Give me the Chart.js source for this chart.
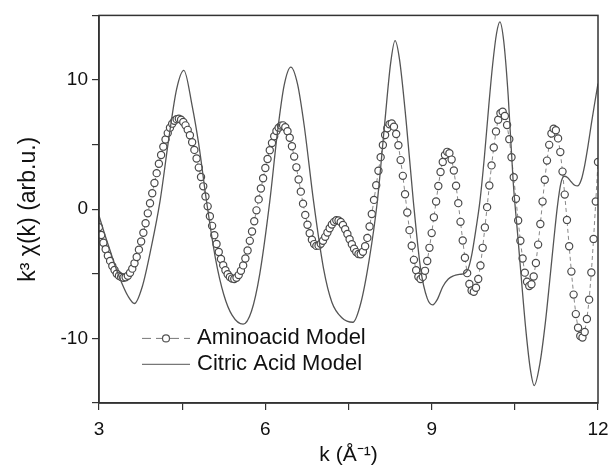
<!DOCTYPE html>
<html>
<head>
<meta charset="utf-8">
<title>EXAFS k3 chi(k)</title>
<script src="https://cdn.jsdelivr.net/npm/chart.js@4.4.1/dist/chart.umd.min.js"></script>
<style>
  html, body { margin: 0; padding: 0; background: #fff; }
  #wrap { position: relative; width: 611px; height: 468px; }
</style>
</head>
<body>
<div id="wrap"><canvas id="exafsChart"></canvas></div>
<script>
// sampling grid of the aminoacid model (circles)
const aminoStart = 3.0;
const aminoStep = 0.04;
const aminoValues = [
  -1.4, -2.0, -2.6, -3.1, -3.6, -4.0, -4.4, -4.7, -5.0, -5.15, -5.25, -5.3,
  -5.27, -5.15, -4.92, -4.60, -4.19, -3.70, -3.13, -2.50, -1.82, -1.09, -0.32, 0.46,
  1.24, 2.03, 2.79, 3.52, 4.20, 4.84, 5.40, 5.89, 6.31, 6.62, 6.85, 6.97,
  7.00, 6.92, 6.75, 6.49, 6.14, 5.72, 5.18, 4.59, 3.92, 3.22, 2.49, 1.77,
  0.99, 0.22, -0.55, -1.29, -2.01, -2.69, -3.31, -3.86, -4.33, -4.72, -5.03, -5.25,
  -5.37, -5.40, -5.31, -5.10, -4.77, -4.35, -3.81, -3.19, -2.45, -1.73, -0.93, -0.09,
  0.76, 1.60, 2.40, 3.19, 3.89, 4.57, 5.12, 5.65, 6.05, 6.31, 6.47, 6.49,
  6.35, 6.03, 5.53, 4.87, 4.07, 3.24, 2.30, 1.36, 0.43, -0.44, -1.20, -1.86,
  -2.37, -2.70, -2.84, -2.82, -2.68, -2.44, -2.14, -1.81, -1.48, -1.19, -0.98, -0.86,
  -0.87, -0.99, -1.22, -1.55, -1.92, -2.33, -2.71, -3.06, -3.32, -3.47, -3.49, -3.30,
  -2.87, -2.22, -1.34, -0.37, 0.72, 1.86, 2.98, 4.03, 4.97, 5.74, 6.26, 6.58,
  6.64, 6.39, 5.82, 4.95, 3.80, 2.58, 1.16, -0.26, -1.62, -2.83, -3.92, -4.73,
  -5.23, -5.40, -5.24, -4.77, -4.01, -2.99, -1.85, -0.63, 0.60, 1.80, 2.88, 3.66,
  4.20, 4.44, 4.34, 3.84, 3.00, 1.81, 0.47, -0.98, -2.42, -3.76, -4.95, -5.79,
  -6.29, -6.39, -6.08, -5.40, -4.36, -2.99, -1.41, 0.16, 1.84, 3.39, 4.78, 6.02,
  6.93, 7.43, 7.54, 7.22, 6.51, 5.42, 4.02, 2.48, 0.80, -0.88, -2.44, -3.81,
  -4.91, -5.62, -5.94, -5.81, -5.21, -4.16, -2.74, -1.14, 0.59, 2.28, 3.76, 4.98,
  5.86, 6.23, 6.11, 5.48, 4.42, 2.91, 1.13, -0.83, -2.87, -4.83, -6.61, -8.12,
  -9.18, -9.81, -9.93, -9.5, -8.5, -7.0, -4.9, -2.3, 0.6, 3.65
];

// citric acid model (solid line)
const citricK = [
  3.00, 3.10, 3.20, 3.30, 3.40, 3.52, 3.64, 3.78, 3.94, 4.10, 4.26, 4.40, 4.53,
  4.68, 4.80, 4.94, 5.10, 5.25, 5.40, 5.60, 5.75, 5.90, 6.08, 6.22, 6.34, 6.46,
  6.58, 6.70, 6.87, 7.05, 7.20, 7.38, 7.58, 7.72, 7.87, 8.02, 8.15, 8.26, 8.34,
  8.42, 8.54, 8.67, 8.80, 8.92, 9.02, 9.10, 9.20, 9.30, 9.40, 9.50, 9.60, 9.66,
  9.72, 9.80, 9.87, 9.95, 10.03, 10.10, 10.17, 10.23, 10.30, 10.38, 10.47, 10.55,
  10.62, 10.70, 10.78, 10.85, 10.95, 11.05, 11.13, 11.20, 11.27, 11.33, 11.39,
  11.45, 11.52, 11.58, 11.63, 11.70, 11.76, 11.82, 11.88, 11.94, 12.00
];
const citricValues = [
  -0.5, -1.9, -3.2, -4.5, -5.6, -6.7, -7.3, -6.0, -3.0, 0.6, 5.5, 9.3, 10.75,
  8.0, 5.0, 0.6, -3.8, -6.6, -8.2, -8.9, -7.9, -5.0, 0.6, 6.0, 9.6, 11.0,
  9.7, 6.5, 0.6, -4.6, -7.2, -8.4, -8.75, -7.3, -4.0, 0.6, 6.5, 11.3, 13.05,
  11.6, 6.8, 0.6, -4.6, -6.9, -7.4, -7.0, -6.0, -5.4, -5.15, -5.05, -4.95, -4.6,
  -3.6, -1.5, 0.6, 4.0, 8.0, 11.2, 13.6, 14.5, 13.0, 8.8, 2.15, -1.9,
  -5.5, -9.4, -12.4, -13.65, -12.0, -8.8, -5.5, -2.5, 0.3, 2.0, 2.55,
  2.45, 2.1, 1.85, 1.8, 2.3, 3.4, 4.9, 6.6, 8.2, 9.73
];

const xTickLabels = [3, 6, 9, 12];
const yTickLabels = [-10, 0, 10];
const seriesNames = ['Aminoacid Model', 'Citric Acid Model'];

const aminoPoints = aminoValues.map((v, i) => ({
  x: Math.round((aminoStart + i * aminoStep) * 100) / 100,
  y: v,
}));
const citricPoints = citricK.map((k, i) => ({ x: k, y: citricValues[i] }));

const axisColor = '#333';
const lineColor = '#555';
const fontFamily = '"Liberation Sans", Arial, Helvetica, sans-serif';

// box round the plot, the reference has a closed frame
const framePlugin = {
  id: 'frame',
  afterDatasetsDraw(chart) {
    const { ctx, chartArea: a } = chart;
    ctx.save();
    ctx.strokeStyle = axisColor;
    ctx.lineWidth = 1.5;
    ctx.strokeRect(a.left, a.top, a.right - a.left, a.bottom - a.top);
    ctx.restore();
  },
};

// legend sits inside the plot, lower left
const insideLegend = {
  id: 'insideLegend',
  afterDraw(chart) {
    const { ctx, chartArea: a } = chart;
    const x0 = a.left + 43;
    const x1 = a.left + 91;
    const tx = a.left + 98;
    const rows = [a.top + 323, a.top + 349];
    ctx.save();
    ctx.font = '22px ' + fontFamily;
    ctx.textBaseline = 'middle';
    ctx.fillStyle = '#111';

    // aminoacid: dashed line + circle
    ctx.strokeStyle = '#777';
    ctx.lineWidth = 1;
    ctx.setLineDash([9, 5]);
    ctx.beginPath();
    ctx.moveTo(x0, rows[0]);
    ctx.lineTo(x1, rows[0]);
    ctx.stroke();
    ctx.setLineDash([]);
    ctx.beginPath();
    ctx.arc((x0 + x1) / 2, rows[0], 3.5, 0, Math.PI * 2);
    ctx.fillStyle = '#fff';
    ctx.fill();
    ctx.strokeStyle = lineColor;
    ctx.lineWidth = 1.2;
    ctx.stroke();
    ctx.fillStyle = '#111';
    ctx.fillText(seriesNames[0], tx, rows[0]);

    // citric: solid line
    ctx.strokeStyle = '#777';
    ctx.lineWidth = 1.2;
    ctx.beginPath();
    ctx.moveTo(x0, rows[1]);
    ctx.lineTo(x1, rows[1]);
    ctx.stroke();
    ctx.fillText(seriesNames[1], tx, rows[1]);
    ctx.restore();
  },
};

new Chart(document.getElementById('exafsChart'), {
  type: 'line',
  data: {
    datasets: [
      {
        label: seriesNames[1],
        data: citricPoints,
        borderColor: lineColor,
        borderWidth: 1.3,
        pointRadius: 0,
        cubicInterpolationMode: 'monotone',
        fill: false,
        order: 0,
      },
      {
        label: seriesNames[0],
        data: aminoPoints,
        borderColor: '#888',
        borderWidth: 1,
        borderDash: [4, 3],
        pointRadius: 3.6,
        pointBorderWidth: 1.2,
        pointBorderColor: '#4a4a4a',
        pointBackgroundColor: '#fff',
        tension: 0,
        fill: false,
        order: 1,
      },
    ],
  },
  options: {
    responsive: true,
    maintainAspectRatio: false,
    devicePixelRatio: 1,
    animation: false,
    layout: { padding: { top: 13, right: 13, left: 0, bottom: 0 } },
    plugins: {
      legend: { display: false },
      tooltip: { enabled: false },
    },
    scales: {
      x: {
        type: 'linear',
        position: 'bottom',
        min: 3,
        max: 12,
        afterFit: (scale) => { scale.height = 65; },
        ticks: {
          stepSize: 1.5,
          autoSkip: false,
          maxRotation: 0,
          padding: 2,
          color: '#111',
          // tall line box pushes the labels down without widening the side padding
          font: { family: fontFamily, size: 19, lineHeight: 1.9 },
          callback: (v) => (xTickLabels.includes(v) ? String(v) : ''),
        },
        grid: {
          drawOnChartArea: false,
          drawTicks: true,
          tickLength: 7,
          color: axisColor,
          lineWidth: 1.2,
        },
        border: { color: axisColor, width: 1.5 },
        title: {
          display: true,
          text: 'k (Å⁻¹)',
          color: '#111',
          font: { family: fontFamily, size: 21 },
          padding: { top: 0, bottom: 0 },
        },
      },
      y: {
        type: 'linear',
        min: -15,
        max: 15,
        afterFit: (scale) => { scale.width = 99; },
        ticks: {
          stepSize: 5,
          padding: 4,
          color: '#111',
          font: { family: fontFamily, size: 19 },
          callback: (v) => (yTickLabels.includes(v) ? String(v) : ''),
        },
        grid: {
          drawOnChartArea: false,
          drawTicks: true,
          tickLength: 7,
          color: axisColor,
          lineWidth: 1.2,
        },
        border: { color: axisColor, width: 1.5 },
        title: {
          display: true,
          text: 'k³ χ(k) (arb.u.)',
          color: '#111',
          font: { family: fontFamily, size: 23 },
          padding: { top: 15, bottom: 0 },
        },
      },
    },
  },
  plugins: [framePlugin, insideLegend],
});
</script>
</body>
</html>
